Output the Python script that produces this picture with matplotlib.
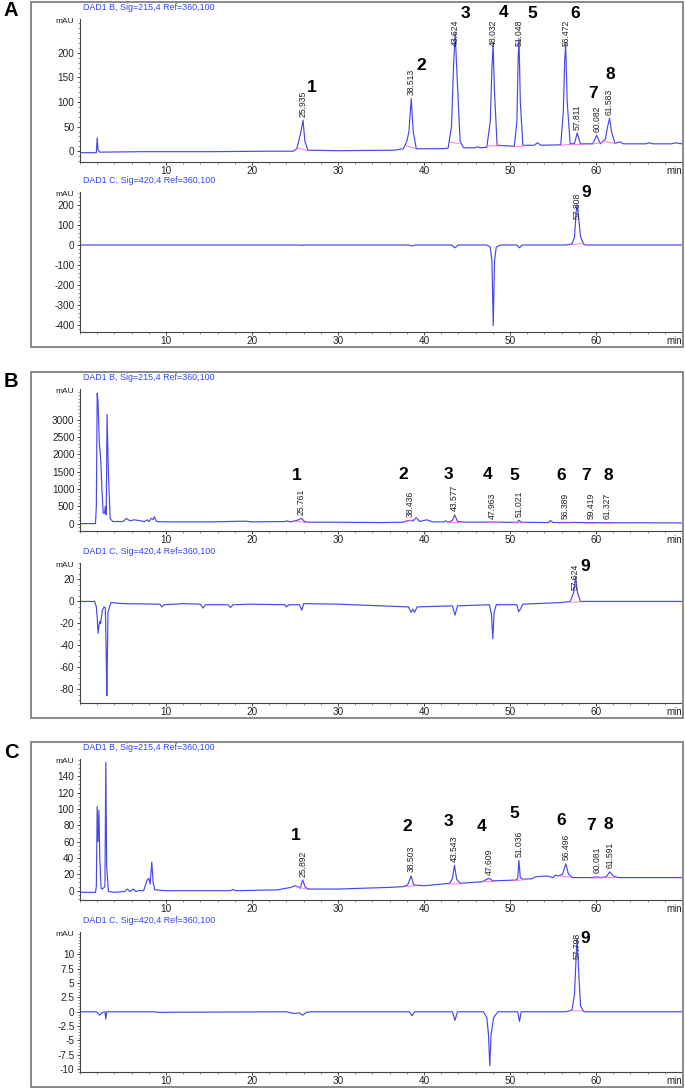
import numpy as np
import matplotlib.pyplot as plt
from matplotlib.patches import Rectangle
from matplotlib.ticker import MultipleLocator

plt.rcParams['font.family'] = ['Liberation Sans', 'DejaVu Sans']

# ---- data: (time min, mAU) points ----
a_b_trace = [(0, -3), (1.9, -3), (2.0, 27), (2.1, 2), (2.3, -2), (7, -1), (15, -1), (22, 0), (24.8, 0),
             (25.2, 5), (25.5, 25), (25.7, 40), (25.935, 63), (26.15, 20), (26.5, 2), (30, 1), (36.5, 2),
             (37.6, 5), (38.0, 20), (38.25, 40), (38.513, 107), (38.75, 40), (39.1, 5), (42, 5), (42.8, 6),
             (43.2, 50), (43.45, 180), (43.624, 241), (43.85, 150), (44.2, 20), (44.6, 7), (46.0, 7),
             (46.2, 9), (46.5, 7), (47.3, 8), (47.7, 60), (47.9, 170), (48.032, 217), (48.2, 120), (48.5, 12),
             (50.5, 10), (50.8, 60), (50.95, 190), (51.048, 229), (51.2, 100), (51.5, 12), (52.8, 12),
             (53.2, 17), (53.6, 12), (55.9, 13), (56.2, 80), (56.35, 180), (56.472, 218), (56.65, 100),
             (57.0, 15), (57.5, 16), (57.811, 37), (58.2, 15), (59.6, 15), (60.082, 32), (60.5, 15),
             (61.1, 25), (61.35, 50), (61.583, 67), (61.8, 40), (62.2, 16), (62.8, 19), (63.2, 15),
             (65.8, 15), (66.2, 17), (66.6, 15), (68.8, 15), (69.2, 17), (70, 15)]
a_b_rt = [25.935, 38.513, 43.624, 48.032, 51.048, 56.472, 57.811, 60.082, 61.583]

a_c_trace = [(0, 0), (25.6, 0), (25.9, -2), (26.2, 0), (38.2, 0), (38.6, -5), (39.0, 0), (43.2, 0),
             (43.6, -14), (44.0, 0), (47.3, 0), (47.7, -10), (47.9, -80), (48.05, -403), (48.2, -80),
             (48.4, -10), (48.9, 0), (50.8, 0), (51.1, -14), (51.4, 0), (56.5, 0), (57.2, 5), (57.5, 40),
             (57.7, 170), (57.808, 200), (57.95, 150), (58.2, 40), (58.6, 2), (59, 0), (70, 0)]
a_c_rt = [57.808]

b_b_trace = [(0, 0), (1.8, 0), (1.9, 500), (2.0, 3760), (2.1, 3500), (2.25, 2300), (2.4, 1900), (2.55, 1000),
             (2.7, 300), (2.85, 300), (2.95, 500), (3.05, 250), (3.15, 3150), (3.3, 1500), (3.5, 150),
             (3.8, 60), (5.0, 60), (5.4, 150), (5.8, 80), (6.3, 110), (6.8, 90), (7.5, 60), (7.8, 110),
             (8.0, 60), (8.3, 150), (8.5, 120), (8.65, 200), (8.9, 60), (10, 50), (15, 50), (19.2, 70),
             (20, 50), (23.8, 60), (24.0, 80), (24.5, 50), (25.3, 100), (25.761, 150), (26.1, 60),
             (26.5, 40), (30, 40), (35, 30), (37.5, 40), (38.2, 90), (38.436, 90), (38.7, 70), (39.1, 170),
             (39.5, 60), (40.3, 110), (41, 50), (42.3, 50), (42.5, 80), (42.8, 40), (43.3, 90),
             (43.577, 250), (43.9, 60), (45, 40), (47.963, 45), (50, 35), (50.9, 40), (51.021, 100),
             (51.3, 40), (54.5, 30), (54.7, 90), (55, 30), (56.389, 35), (59.419, 28), (61.327, 25), (70, 20)]
b_b_rt = [25.761, 38.436, 43.577, 47.963, 51.021, 56.389, 59.419, 61.327]

b_c_trace = [(0, 0), (1.7, 0), (1.9, -5), (2.0, -15), (2.1, -29), (2.2, -22), (2.3, -18), (2.4, -20),
             (2.6, -8), (2.8, -5), (2.95, -6), (3.05, -50), (3.12, -86), (3.25, -10), (3.6, -1), (5, -2),
             (9.3, -2.5), (9.5, -5), (9.8, -3), (12, -2), (14.0, -2.5), (14.3, -6), (14.6, -3), (17.2, -3),
             (17.5, -5.5), (17.8, -3), (20, -2.5), (23.8, -3), (24.0, -5), (24.3, -3), (25.5, -3),
             (25.8, -8), (26.0, -2), (30, -2.5), (38.2, -5), (38.5, -10), (38.7, -7), (38.9, -10),
             (39.2, -5), (43.3, -4), (43.6, -12.5), (43.9, -4), (47.6, -3), (47.85, -12), (48.0, -34),
             (48.15, -10), (48.4, -3), (50.8, -3), (51.0, -9.5), (51.2, -7), (51.5, -2.5), (56, -1),
             (57.0, 0), (57.4, 8), (57.624, 22), (57.85, 8), (58.2, 0), (70, 0)]
b_c_rt = [57.624]

c_b_trace = [(0, -2), (1.8, -2), (1.9, 5), (2.0, 103), (2.1, 60), (2.2, 98), (2.3, 40), (2.45, 3), (2.6, 2),
             (2.9, 5), (3.0, 157), (3.1, 30), (3.3, -1), (4.0, -2), (5.2, -1), (5.5, 2), (5.8, -1),
             (6.2, 2), (6.5, -1), (6.8, 0), (7.4, 0), (7.8, 13), (8.0, 15), (8.15, 8), (8.35, 35),
             (8.5, 10), (8.7, 1), (10, 0), (17.5, 0), (17.8, 1.5), (18.1, 0), (23, 1), (24.0, 3),
             (24.5, 4), (25.0, 6), (25.3, 5), (25.6, 3), (25.892, 13), (26.2, 4), (26.6, 2), (30, 2),
             (36, 4), (37.6, 5), (38.1, 7), (38.503, 18), (38.8, 7), (40, 6), (43.0, 9), (43.3, 15),
             (43.543, 31), (43.8, 14), (44.2, 9), (46.8, 11), (47.3, 14), (47.609, 15), (48.0, 12),
             (50.7, 13), (50.9, 15), (51.036, 37), (51.2, 16), (51.5, 14), (52.5, 14.5), (53.0, 17),
             (54.3, 18), (55.0, 16), (55.3, 19), (55.6, 18), (56.1, 20), (56.496, 33), (56.8, 20),
             (57.3, 16), (59.5, 16), (60.081, 17), (60.5, 16), (61.2, 17), (61.591, 23), (62.0, 18),
             (62.6, 16), (70, 16)]
c_b_rt = [25.892, 38.503, 43.543, 47.609, 51.036, 56.496, 60.081, 61.591]

c_c_trace = [(0, 0), (1.9, 0), (2.1, -0.3), (2.3, -0.6), (2.5, -0.2), (2.9, 0), (3.0, -1.3), (3.1, 0),
             (8.5, 0), (9.0, -0.1), (24, 0), (24.5, -0.2), (25.0, -0.3), (25.5, -0.2), (25.9, -0.6),
             (26.3, -0.1), (27, 0), (38.3, 0), (38.6, -0.7), (38.9, 0), (43.3, 0), (43.6, -1.5),
             (43.9, 0), (46.9, 0), (47.3, -1), (47.5, -4), (47.65, -9.4), (47.8, -4), (48.1, -1),
             (48.6, 0), (50.9, 0), (51.1, -1.7), (51.3, 0), (56.5, 0), (57.2, 0.3), (57.5, 3), (57.7, 10),
             (57.798, 12.8), (57.95, 8), (58.2, 1), (58.6, 0), (70, 0)]
c_c_rt = [57.798]

title_b = "DAD1 B, Sig=215,4 Ref=360,100"
title_c = "DAD1 C, Sig=420,4 Ref=360,100"

# ---- layout (pixels) ----
W, H = 685, 1091
fig = plt.figure(figsize=(W / 100, H / 100), dpi=100)

LINE = '#4848e8'
BLUE = '#2f45ff'
DARK = '#222222'

# peak number label positions (data coords)
nums_a = [("1", 26.9, 130), ("2", 39.7, 175), ("3", 44.8, 280), ("4", 49.2, 282), ("5", 52.6, 280),
          ("6", 57.6, 280), ("7", 59.7, 117), ("8", 61.7, 156)]
nums_b = [("1", 25.2, 1400), ("2", 37.6, 1420), ("3", 42.9, 1420), ("4", 47.4, 1420), ("5", 50.5, 1390),
          ("6", 55.9, 1400), ("7", 58.8, 1400), ("8", 61.4, 1400)]
nums_c = [("1", 25.1, 68), ("2", 38.0, 79), ("3", 42.8, 84), ("4", 46.7, 78), ("5", 50.5, 94),
          ("6", 55.9, 86), ("7", 59.4, 80), ("8", 61.4, 81)]

panels = [
    # trace, rts, title, top px, bottom px, ylim, major ticks, minor step, number labels
    (a_b_trace, a_b_rt, title_b, 19, 162, (-22, 269), np.arange(0, 201, 50), 10, nums_a),
    (a_c_trace, a_c_rt, title_c, 192, 332, (-435, 265), np.arange(-400, 201, 100), 20, [("9", 58.9, 263)]),
    (b_b_trace, b_b_rt, title_b, 389, 531, (-213, 3880), np.arange(0, 3001, 500), 100, nums_b),
    (b_c_trace, b_c_rt, title_c, 563, 703, (-92.5, 35), np.arange(-80, 21, 20), 5, [("9", 58.8, 32)]),
    (c_b_trace, c_b_rt, title_b, 759, 900, (-11.4, 161), np.arange(0, 141, 20), 5, nums_c),
    (c_c_trace, c_c_rt, title_c, 932, 1072, (-10.5, 13.9), np.arange(-10, 10.1, 2.5), 0.5, [("9", 58.8, 12.8)]),
]

boxes = [("A", 2, 347, 11), ("B", 372, 718, 382), ("C", 742, 1087, 753)]
for letter, top, bottom, ly in boxes:
    fig.add_artist(Rectangle((31 / W, 1 - bottom / H), (683 - 31) / W, (bottom - top) / H,
                             transform=fig.transFigure, fill=False, ec='#808080', lw=1.3))
    fig.text(11 / W, 1 - ly / H, letter, fontsize=14.5, fontweight='bold', ha='center', va='center')


def fmt_tick(v):
    return f"{v:g}"


for trace, rts, title, top, bottom, ylim, majors, minor, nums in panels:
    ax = fig.add_axes([80 / W, 1 - bottom / H, 602 / W, (bottom - top) / H])
    t, y = np.array(trace, dtype=float).T
    ax.plot(t, y, color=LINE, lw=0.85)

    # integration baselines
    for rt in rts:
        xs = [rt - 0.7, rt + 0.7]
        ax.plot(xs, np.interp(xs, t, y) - 0.004 * (ylim[1] - ylim[0]), color='#ff66dd', lw=0.6)

    ax.set_xlim(0, 70)
    ax.set_ylim(*ylim)
    for s in ['top', 'right']:
        ax.spines[s].set_visible(False)
    for s in ['left', 'bottom']:
        ax.spines[s].set_color('#444444')
        ax.spines[s].set_linewidth(0.8)
    ax.set_xticks(np.arange(10, 61, 10))
    ax.xaxis.set_minor_locator(MultipleLocator(2))
    ax.set_yticks(majors)
    ax.set_yticklabels([fmt_tick(v) for v in majors])
    ax.yaxis.set_minor_locator(MultipleLocator(minor))
    ax.tick_params(which='major', direction='out', length=2.5, width=0.7, labelsize=7.2,
                   colors='#444444', labelcolor=DARK)
    ax.tick_params(axis='x', which='major', pad=0.5)
    ax.tick_params(axis='y', which='major', pad=1.5)
    ax.tick_params(which='minor', direction='out', length=1.5, width=0.5, colors='#666666')
    ax.patch.set_alpha(0)

    ax.annotate("min", xy=(1, 0), xycoords='axes fraction', xytext=(0, -3.0), textcoords='offset points',
                ha='right', va='top', fontsize=7, color=DARK)
    ax.annotate("mAU", xy=(0, 1), xycoords='axes fraction', xytext=(-4.5, -2), textcoords='offset points',
                ha='right', va='center', fontsize=6, color=DARK)
    ax.annotate(title, xy=(0, 1), xycoords='axes fraction', xytext=(2.5, 8.5), textcoords='offset points',
                ha='left', va='center', fontsize=6.4, color=BLUE)

    lo, hi = ylim
    for rt in rts:
        apex = np.interp(rt, t, y)
        if (apex - lo) / (hi - lo) > 0.8:
            ax.annotate(f"{rt:.3f}", xy=(rt, 1), xycoords=('data', 'axes fraction'), xytext=(0, -0.5),
                        textcoords='offset points', rotation=90, ha='center', va='top', fontsize=6.2,
                        color=DARK)
        else:
            ax.annotate(f"{rt:.3f}", xy=(rt, apex), xytext=(0, 2.5), textcoords='offset points',
                        rotation=90, ha='center', va='bottom', fontsize=6.2, color=DARK)

    for lab, nx, ny in nums:
        ax.text(nx, ny, lab, fontsize=12.5, fontweight='bold', ha='center', va='center', clip_on=False)

fig.savefig("out.png", dpi=100)
